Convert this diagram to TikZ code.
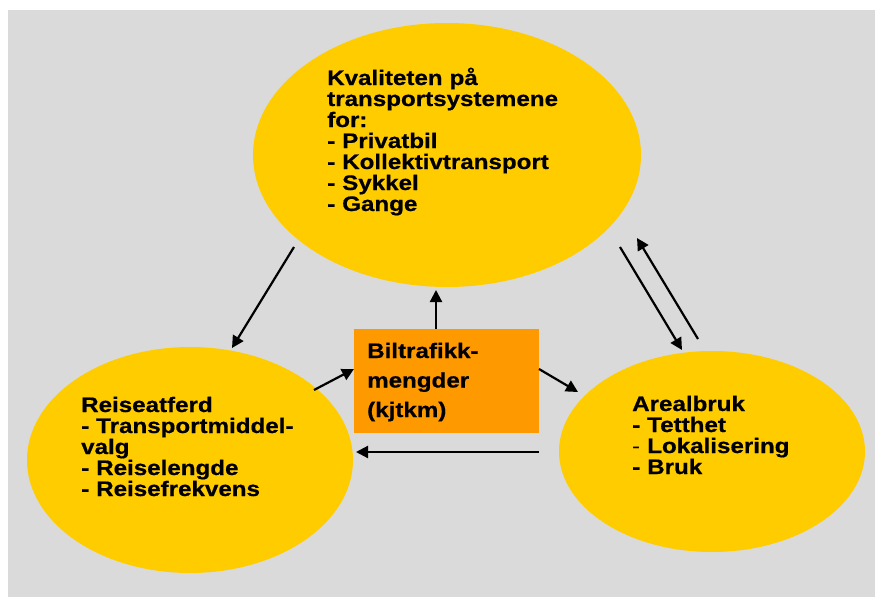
\documentclass[tikz,border=0pt]{standalone}
\usepackage{fontspec}
\setmainfont{Liberation Sans}[FakeStretch=1.15, BoldFeatures={FakeBold=0.6}]
\usetikzlibrary{shapes.geometric,arrows.meta}
\definecolor{bgc}{HTML}{DADADA}
\definecolor{ellc}{HTML}{FFCC00}
\definecolor{boxc}{HTML}{FF9900}
\begin{document}
\begin{tikzpicture}[x=1pt,y=-1pt,
  blob/.style={ellipse, fill=ellc, inner sep=0},
  lbl/.style={anchor=base west, inner sep=0, text width=320pt, align=left, font=\fontsize{21}{21}\selectfont\bfseries},
  arr/.style={line width=2.2pt, -{Triangle[length=12pt,width=12pt]}}]
\useasboundingbox (0,0) rectangle (875,597);
\fill[white] (0,0) rectangle (875,597);
\fill[bgc] (8,10) rectangle (875,597);
\node[blob, minimum width=388pt, minimum height=264pt] (top) at (447,155) {};
\node[blob, minimum width=326pt, minimum height=226pt] (left) at (190,460) {};
\node[blob, minimum width=306pt, minimum height=201pt] (right) at (712,451.5) {};
\node[fill=boxc, minimum width=185pt, minimum height=104pt, inner sep=0] (box) at (446.5,381) {};
\node[lbl] (toptext) at (327,85) {Kvaliteten på\\transportsystemene\\for:\\- Privatbil\\- Kollektivtransport\\- Sykkel\\- Gange};
\node[lbl] (lefttext) at (81,412) {Reiseatferd\\- Transportmiddel-\\valg\\- Reiselengde\\- Reisefrekvens};
\node[lbl] (righttext) at (632,411) {Arealbruk\\- Tetthet\\{\mdseries -} Lokalisering\\- Bruk};
\node[lbl, font=\fontsize{21}{29.5}\selectfont\bfseries] (boxtext) at (367,358) {Biltrafikk-\\mengder\\(kjtkm)};
\coordinate (a1s) at (294,247);
\coordinate (a1e) at (232,348);
\coordinate (upx) at (436,290);
\coordinate (a3s) at (314,390);
\coordinate (a3e) at (354,369);
\coordinate (a4s) at (539,369);
\coordinate (a4e) at (578,392);
\coordinate (a5s) at (539,452);
\coordinate (a5e) at (356,452);
\coordinate (a6s) at (620,247);
\coordinate (a6e) at (682,350);
\coordinate (a7s) at (698,339);
\coordinate (a7e) at (637,238);
\draw[arr] (a1s) -- (a1e);
\draw[arr] (box.north -| upx) -- (upx);
\draw[arr] (a3s) -- (a3e);
\draw[arr] (a4s) -- (a4e);
\draw[arr] (a5s) -- (a5e);
\draw[arr] (a6s) -- (a6e);
\draw[arr] (a7s) -- (a7e);
\end{tikzpicture}
\end{document}
